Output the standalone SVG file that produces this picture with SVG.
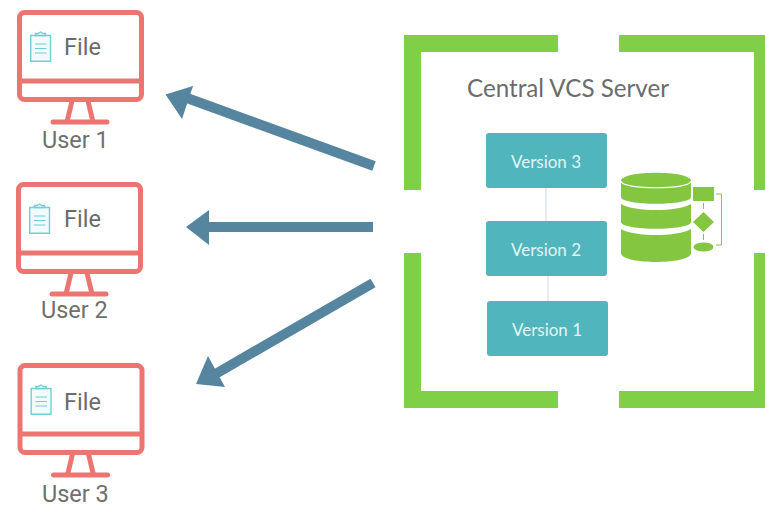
<svg xmlns="http://www.w3.org/2000/svg" width="765" height="505" viewBox="0 0 765 505">
<defs>
<style>
.frame{fill:none;stroke:#ec7572;stroke-width:5}
.fb{fill:none;stroke:#ec7572;stroke-width:5}
.fl{fill:none;stroke:#ec7572;stroke-width:5;stroke-linecap:round}
.clip{fill:#f2fbfb;stroke:#6fcfd6;stroke-width:1.4}
.cl{stroke:#6fcfd6;stroke-width:1.2;fill:none}
.file{font:23.500px Roboto,"Liberation Sans",sans-serif;fill:#6b6b6b}
.user{font:23.500px Roboto,"Liberation Sans",sans-serif;fill:#6f6f6f}
.ver{fill:#50b5bc}
.vt{font:17px Lato,"Liberation Sans",sans-serif;fill:#e2f5f6;text-anchor:middle}
.g{fill:#7fcf47}
.arrow{stroke:#5685a0;stroke-width:10;fill:none}
.head{fill:#5685a0}
.db{fill:#84c640}
</style>
<g id="mon">
<rect class="frame" x="19.500" y="12.500" width="122" height="87" rx="5"/>
<path class="fb" d="M19 81H142"/>
<path class="fb" d="M72 101L67 122M88 101L93 122"/>
<path class="fl" d="M53 122H107"/>
<path class="clip" d="M30.700 35.500H50.500V61.300H30.700Z"/>
<path class="clip" d="M35.500 35.500V33.500H38L40.500 32L43 33.500H45.500V35.500Z"/>
<path class="cl" d="M35 44H46.500M35 48.500H46.500M35 53H46.500"/>
</g>
</defs>
<g id="connectors">
<path class="arrow" d="M374 166L187 98"/>
<polygon class="head" points="165.500,94.500 193,86 182,119"/>
<path class="arrow" d="M373 227H208"/>
<polygon class="head" points="186,227 209,210 209,245"/>
<path class="arrow" d="M373 283L212 376"/>
<polygon class="head" points="196,384 208,356 225,387"/>
<path d="M546 188V222M548 275V302" stroke="#dfe5e8" stroke-width="1.500" fill="none"/>
</g>
<g id="user1"><use href="#mon"/><text class="file" x="64" y="55">File</text><text class="user" x="42" y="148">User 1</text></g>
<g id="user2"><use href="#mon" x="-1" y="172"/><text class="file" x="64" y="227">File</text><text class="user" x="41" y="318">User 2</text></g>
<g id="user3"><use href="#mon" x="0.500" y="353"/><text class="file" x="64" y="410">File</text><text class="user" x="42" y="502">User 3</text></g>
<g id="server">
<path class="g" d="M404 35H558V52H421V190H404ZM619 35H765V52H619ZM404 253H421V391H558V408H404ZM754 253H765V408H619V391H754ZM754 52H765V190H754Z"/>
<text x="467" y="97" style="font:24.200px Lato,'Liberation Sans',sans-serif;fill:#6b6b6b">Central VCS Server</text>
</g>
<g id="v3"><rect class="ver" x="486" y="133" width="121" height="55" rx="3"/><text class="vt" x="546" y="168">Version 3</text></g>
<g id="v2"><rect class="ver" x="486" y="221" width="121" height="55" rx="3"/><text class="vt" x="546" y="256">Version 2</text></g>
<g id="v1"><rect class="ver" x="487" y="301" width="121" height="55" rx="3"/><text class="vt" x="547" y="336">Version 1</text></g>
<g id="database">
<path class="db" d="M621 181C621 170 691 170 691 181V197C691 206 621 206 621 197Z"/>
<path class="db" d="M621 204C635 212 677 212 691 204V222C691 231 621 231 621 222Z"/>
<path class="db" d="M621 229C635 237 677 237 691 229V253C691 265 621 265 621 253Z"/>
<path d="M621 181C621 190 691 190 691 181" fill="none" stroke="#fff" stroke-width="1.200"/>
<rect class="db" x="693" y="187" width="21" height="14"/>
<polygon class="db" points="703.500,212 714,222 703.500,232 693,222"/>
<ellipse class="db" cx="703.500" cy="247" rx="10" ry="4.500"/>
<path d="M703.500 203V209M703.500 234V240M716 194H721.500V245H716" fill="none" stroke="#84c640" stroke-width="1"/>
</g>
</svg>
